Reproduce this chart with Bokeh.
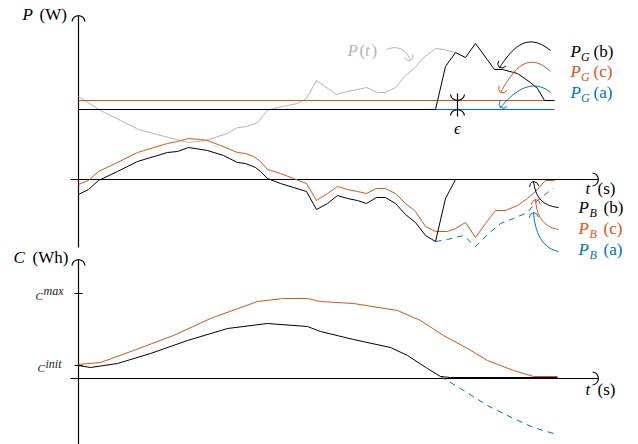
import math
from bokeh.plotting import figure
from bokeh.models import Range1d
from bokeh.embed import file_html
from bokeh.resources import INLINE
from bokeh.core.properties import value

# ---------------- data (schematic units: t in s, P in W, C in Wh) ----------------
# available power P(t)
t_P = [0, 22, 60, 90, 110, 127, 149, 159, 169, 179, 189, 199, 209, 219, 228, 238,
       258, 269, 279, 288, 299, 307, 317, 327, 337, 344, 352, 357, 365, 377]
P_t = [83, 69, 50, 42, 37, 39, 46, 52, 53, 57, 69, 72, 74, 76, 81, 99,
       85, 88, 90, 92, 87, 87, 92, 104, 112, 121, 127, 131, 130, 127]

# grid power, strategy (b)
t_PGb = [0, 357, 367, 377, 387, 397, 416, 424, 439, 452, 459, 466, 476]
P_Gb = [70, 70, 113, 127, 122, 136, 110, 110, 106, 97, 91, 79, 79]

# grid power, strategies (c) and (a): constant levels
t_PG = [0, 476]
P_Gc = [79, 79]
P_Ga = [70, 70]

# battery power, strategy (b)
t_PBb = [0, 10, 20, 39, 59, 89, 99, 110, 129, 145, 159, 167, 177, 182, 189, 202, 215,
         228, 238, 249, 259, 269, 279, 288, 298, 307, 317, 327, 337, 347, 357, 367, 377, 476]
P_Bb = [-15, -10, -1, 8, 18, 27, 28, 32, 29, 24, 17, 16, 12, 8, 1, -4, -8,
        -12, -30, -24, -16, -19, -21, -24, -18, -18, -24, -35, -43, -56, -62, -19, 0, 0]

# battery power, strategy (c)
t_PBc = [0, 10, 20, 39, 59, 89, 99, 110, 122, 129, 142, 159, 167, 175, 182, 189, 202, 215,
         228, 238, 249, 259, 269, 279, 288, 298, 307, 317, 327, 337, 347, 357, 369, 377,
         387, 397, 407, 417, 427, 439, 449, 457, 467, 476]
P_Bc = [-5, -1, 8, 17, 27, 36, 38, 41, 40, 39, 34, 27, 26, 23, 18, 10, 6, 1,
        -4, -21, -14, -7, -10, -12, -14, -9, -9, -14, -24, -32, -47, -52, -52, -49,
        -43, -58, -44, -31, -31, -26, -19, -12, -1, -1]

# battery power, strategy (a) (where it departs from (b))
t_PBa = [357, 369, 385, 397, 409, 422, 435, 449, 459, 469, 475]
P_Ba = [-62, -60, -56, -67, -55, -44, -39, -33, -21, -13, -9]

# battery energy
t_Cc = [0, 22, 55, 95, 132, 179, 205, 229, 242, 275, 319, 342, 365, 389, 409, 435, 455, 479]
C_c = [14, 16, 28, 43, 60, 77, 80, 80, 77, 75, 68, 58, 43, 30, 18, 8, 2, 2]
t_Cb = [0, 12, 39, 72, 109, 149, 189, 229, 242, 275, 312, 329, 349, 362, 372, 479]
C_b = [13, 11, 15, 25, 38, 50, 55, 52, 47, 39, 31, 23, 10, 2, 1, 1]
t_Ca = [362, 382, 409, 435, 455, 475]
C_a = [2, -10, -27, -40, -49, -55]

C_max = 85
C_init = 13
eps_t = 379

# ---------------- styling ----------------
BLACK = "#000000"
ORANGE = "#D95319"
BLUE = "#0072BD"
GRAY = "#b3b3b3"
FONT = "Liberation Serif"

p = figure(width=638, height=444, x_range=Range1d(-78, 560), y_range=Range1d(-265, 179),
           x_axis_type=None, y_axis_type=None, toolbar_location=None,
           output_backend="svg", min_border=0)
p.extra_y_ranges = {"C": Range1d(-66, 378)}
p.outline_line_color = None
p.background_fill_color = "white"
p.border_fill_color = "white"


def head(xt, yt, xf, yf, L, W, color, lw, rn="default"):
    dx, dy = xt - xf, yt - yf
    n = math.hypot(dx, dy)
    dx, dy = dx / n, dy / n
    nx, ny = -dy, dx
    for s in (1, -1):
        bx, by = xt - L * dx + s * W * nx, yt - L * dy + s * W * ny
        cx, cy = xt - 0.15 * L * dx + s * 0.9 * W * nx, yt - 0.15 * L * dy + s * 0.9 * W * ny
        p.quadratic(x0=[xt], y0=[yt], x1=[bx], y1=[by], cx=[cx], cy=[cy],
                    line_color=color, line_width=lw, y_range_name=rn)


def txt(x, y, s, color, size, italic, dx=0, dy=0, rn="default", align="left"):
    p.text(x=[x], y=[y], text=[s], text_color=color, text_font=value(FONT),
           text_font_size=f"{size}px", text_font_style="italic" if italic else "normal",
           text_align=align, text_baseline="middle", x_offset=dx, y_offset=dy,
           y_range_name=rn)


# ---------------- axes ----------------
AX = 1.2
p.line([0, 0], [-68, 164], line_color=BLACK, line_width=AX)
head(0, 164, 0, 150, 6, 6.5, BLACK, AX)
p.line([-8, 520], [0, 0], line_color=BLACK, line_width=AX)
head(520, 0, 500, 0, 6, 6.5, BLACK, AX)

p.line([0, 0], [-66, 119], line_color=BLACK, line_width=AX, y_range_name="C")
head(0, 119, 0, 100, 6, 6.5, BLACK, AX, rn="C")
p.line([-8, 520], [0, 0], line_color=BLACK, line_width=AX, y_range_name="C")
head(520, 0, 500, 0, 6, 6.5, BLACK, AX, rn="C")
for c in (C_max, C_init):
    p.line([-4, 4], [c, c], line_color=BLACK, line_width=AX, y_range_name="C")

# ---------------- power curves ----------------
LW = 1.0
p.line(t_P, P_t, line_color=GRAY, line_width=LW)
p.line(t_PG, P_Gc, line_color=ORANGE, line_width=LW)
p.line(t_PG, P_Ga, line_color=BLUE, line_width=LW)
p.line(t_PGb, P_Gb, line_color=BLACK, line_width=LW)

p.line(t_PBa, P_Ba, line_color=BLUE, line_width=LW, line_dash="6 5")
p.line(t_PBc, P_Bc, line_color=ORANGE, line_width=LW)
p.line(t_PBb, P_Bb, line_color=BLACK, line_width=LW)

# ---------------- energy curves ----------------
p.line(t_Ca, C_a, line_color=BLUE, line_width=LW, line_dash="6 5", y_range_name="C")
p.line(t_Cc, C_c, line_color=ORANGE, line_width=LW, y_range_name="C")
p.line(t_Cb, C_b, line_color=BLACK, line_width=LW, y_range_name="C")

# ---------------- epsilon marker ----------------
p.line([eps_t, eps_t], [86, 63], line_color=BLACK, line_width=AX)
head(eps_t, P_Gc[0], eps_t, P_Gc[0] + 10, 6, 7, BLACK, AX)
head(eps_t, P_Ga[0], eps_t, P_Ga[0] - 10, 6, 7, BLACK, AX)
txt(eps_t, 51, "ϵ", BLACK, 17, True, align="center")

# ---------------- callout arrows ----------------
arr_x0 = [472, 472, 472, 480, 480, 480, 308]
arr_y0 = [129, 108, 87, -28, -50, -72, 130]
arr_cx0 = [447, 447, 452, 462, 462, 460, 320]
arr_cy0 = [150, 132, 104, -26, -47, -68, 135]
arr_cx1 = [432, 432, 432, 457, 458, 456, 328]
arr_cy1 = [128, 104, 84, -16, -33, -46, 129]
arr_x1 = [421, 422, 422, 455, 457, 455, 332]
arr_y1 = [112, 87, 72, -2, -20, -33, 119]
arr_col = [BLACK, ORANGE, BLUE, BLACK, ORANGE, BLUE, GRAY]
for i in range(len(arr_x0)):
    p.bezier(x0=[arr_x0[i]], y0=[arr_y0[i]], x1=[arr_x1[i]], y1=[arr_y1[i]],
             cx0=[arr_cx0[i]], cy0=[arr_cy0[i]], cx1=[arr_cx1[i]], cy1=[arr_cy1[i]],
             line_color=arr_col[i], line_width=LW)
    head(arr_x1[i], arr_y1[i], arr_cx1[i], arr_cy1[i], 5, 4.5, arr_col[i], LW)

# ---------------- labels ----------------
txt(-56, 165, "P", BLACK, 17, True)
txt(-56, 165, "(W)", BLACK, 17, False, dx=17)
txt(-65, 121, "C", BLACK, 17, True, rn="C")
txt(-65, 121, "(Wh)", BLACK, 17, False, dx=19, rn="C")
txt(507, -9, "t", BLACK, 17, True)
txt(507, -9, "(s)", BLACK, 17, False, dx=12)
txt(507, -11, "t", BLACK, 17, True, rn="C")
txt(507, -11, "(s)", BLACK, 17, False, dx=12, rn="C")

txt(269, 129, "P", GRAY, 17, True)
txt(269, 129, "(", GRAY, 17, False, dx=12)
txt(269, 129, "t", GRAY, 17, True, dx=17.5)
txt(269, 129, ")", GRAY, 17, False, dx=24)

lab_cols = [BLACK, ORANGE, BLUE]
lab_tags = ["(b)", "(c)", "(a)"]
PG_mid = [128, 108, 87]
PB_mid = [-28, -49, -70]
for col, tag, ym in zip(lab_cols, lab_tags, PG_mid):
    txt(492, ym, "P", col, 17, True)
    txt(492, ym, "G", col, 12, True, dx=10.5, dy=5)
    txt(492, ym, tag, col, 17, False, dx=23)
for col, tag, ym in zip(lab_cols, lab_tags, PB_mid):
    txt(500, ym, "P", col, 17, True)
    txt(500, ym, "B", col, 12, True, dx=11, dy=5)
    txt(500, ym, tag, col, 17, False, dx=25)

txt(-43, 83, "C", "#222222", 11, True, rn="C")
txt(-43, 83, "max", "#222222", 12, True, dx=8, dy=-5, rn="C")
txt(-41, 11, "C", "#222222", 11, True, rn="C")
txt(-41, 11, "init", "#222222", 12, True, dx=8, dy=-4, rn="C")

open("out.html", "w").write(file_html(p, INLINE))
